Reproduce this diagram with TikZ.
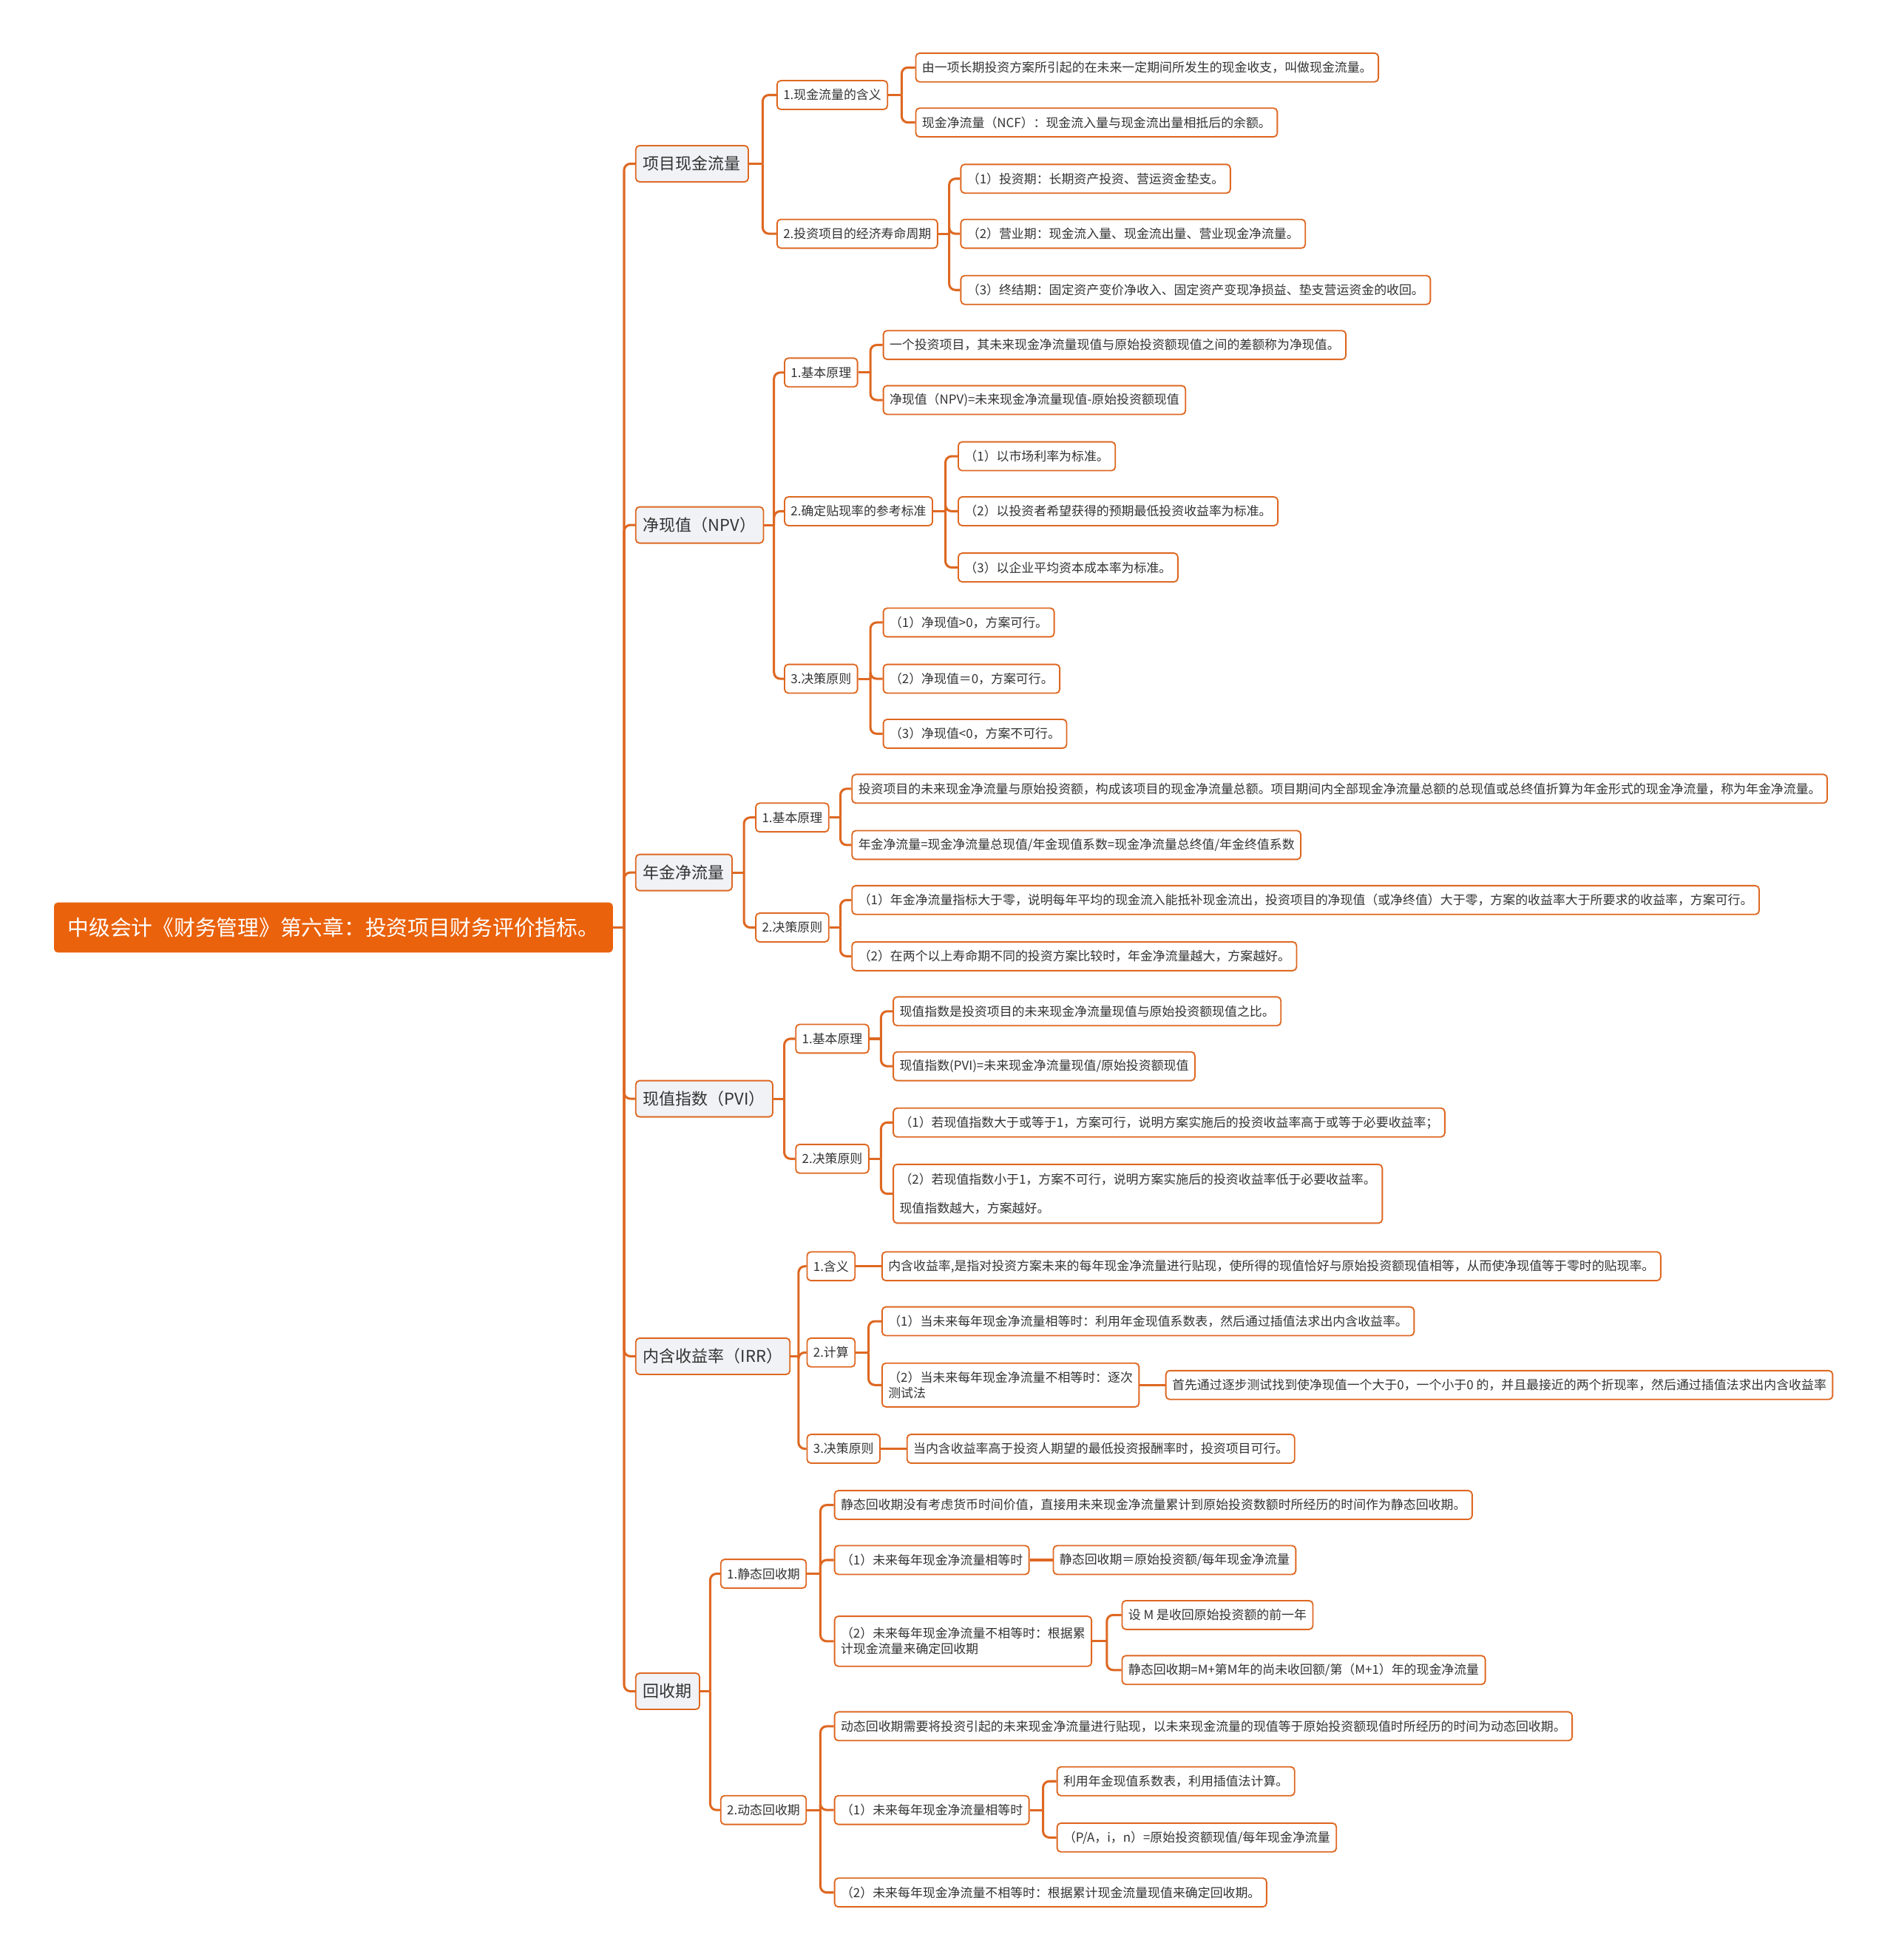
\documentclass[tikz,border=0pt]{standalone}
\usepackage{fontspec}
\setmainfont{Noto Sans CJK SC}
\usepackage{xcolor}
\usetikzlibrary{calc}

\definecolor{mindorange}{RGB}{234,98,12}
\definecolor{linkorange}{RGB}{222,104,34}
\definecolor{topicfill}{RGB}{240,242,245}
\definecolor{inkgray}{RGB}{51,51,51}

\begin{document}
\begin{tikzpicture}[
    x=1pt, y=-1pt,
    leaf/.style={rectangle, draw=linkorange, line width=1.1pt, fill=white, rounded corners=3pt, anchor=west, text=inkgray, font=\fontsize{10}{12.5}\selectfont, inner xsep=5pt, inner ysep=2pt, minimum height=23pt, align=left},
    topic/.style={leaf, fill=topicfill, font=\fontsize{13}{15}\selectfont, inner xsep=6pt, minimum height=29pt},
    rootnode/.style={rectangle, fill=mindorange, rounded corners=3pt, anchor=west, text=white, font=\fontsize{17}{19}\selectfont, inner xsep=9pt, minimum height=40pt, minimum width=447pt},
    link/.style={draw=linkorange, line width=1.8pt}
]
    \fill[white] (0,0) rectangle (1514,1568);
    \useasboundingbox (0,0) rectangle (1514,1568);

    \node[rootnode] (root) at (43,742) {中级会计《财务管理》第六章：投资项目财务评价指标。};

    \node[topic] (sec1) at (508,131) {项目现金流量};
    \node[leaf] (sec1a) at (621,76) {1.现金流量的含义};
    \node[leaf] (sec1a1) at (732,54) {由一项长期投资方案所引起的在未来一定期间所发生的现金收支，叫做现金流量。};
    \node[leaf] (sec1a2) at (732,98) {现金净流量（NCF）：现金流入量与现金流出量相抵后的余额。};
    \node[leaf] (sec1b) at (621,187) {2.投资项目的经济寿命周期};
    \node[leaf] (sec1b1) at (768,143) {（1）投资期：长期资产投资、营运资金垫支。};
    \node[leaf] (sec1b2) at (768,187) {（2）营业期：现金流入量、现金流出量、营业现金净流量。};
    \node[leaf] (sec1b3) at (768,232) {（3）终结期：固定资产变价净收入、固定资产变现净损益、垫支营运资金的收回。};

    \node[topic] (sec2) at (508,420) {净现值（NPV）};
    \node[leaf] (sec2a) at (627,298) {1.基本原理};
    \node[leaf] (sec2a1) at (706,276) {一个投资项目，其未来现金净流量现值与原始投资额现值之间的差额称为净现值。};
    \node[leaf] (sec2a2) at (706,320) {净现值（NPV)=未来现金净流量现值-原始投资额现值};
    \node[leaf] (sec2b) at (627,409) {2.确定贴现率的参考标准};
    \node[leaf] (sec2b1) at (766,365) {（1）以市场利率为标准。};
    \node[leaf] (sec2b2) at (766,409) {（2）以投资者希望获得的预期最低投资收益率为标准。};
    \node[leaf] (sec2b3) at (766,454) {（3）以企业平均资本成本率为标准。};
    \node[leaf] (sec2c) at (627,543) {3.决策原则};
    \node[leaf] (sec2c1) at (706,498) {（1）净现值>0，方案可行。};
    \node[leaf] (sec2c2) at (706,543) {（2）净现值＝0，方案可行。};
    \node[leaf] (sec2c3) at (706,587) {（3）净现值<0，方案不可行。};

    \node[topic] (sec3) at (508,698) {年金净流量};
    \node[leaf] (sec3a) at (604,654) {1.基本原理};
    \node[leaf] (sec3a1) at (681,631) {投资项目的未来现金净流量与原始投资额，构成该项目的现金净流量总额。项目期间内全部现金净流量总额的总现值或总终值折算为年金形式的现金净流量，称为年金净流量。};
    \node[leaf] (sec3a2) at (681,676) {年金净流量=现金净流量总现值/年金现值系数=现金净流量总终值/年金终值系数};
    \node[leaf] (sec3b) at (604,742) {2.决策原则};
    \node[leaf] (sec3b1) at (681,720) {（1）年金净流量指标大于零，说明每年平均的现金流入能抵补现金流出，投资项目的净现值（或净终值）大于零，方案的收益率大于所要求的收益率，方案可行。};
    \node[leaf] (sec3b2) at (681,765) {（2）在两个以上寿命期不同的投资方案比较时，年金净流量越大，方案越好。};

    \node[topic] (sec4) at (508,879) {现值指数（PVI）};
    \node[leaf] (sec4a) at (636,831) {1.基本原理};
    \node[leaf] (sec4a1) at (714,809) {现值指数是投资项目的未来现金净流量现值与原始投资额现值之比。};
    \node[leaf] (sec4a2) at (714,853) {现值指数(PVI)=未来现金净流量现值/原始投资额现值};
    \node[leaf] (sec4b) at (636,927) {2.决策原则};
    \node[leaf] (sec4b1) at (714,898) {（1）若现值指数大于或等于1，方案可行，说明方案实施后的投资收益率高于或等于必要收益率；};
    \node[leaf, minimum height=47pt] (sec4b2) at (714,955) {（2）若现值指数小于1，方案不可行，说明方案实施后的投资收益率低于必要收益率。\\[11pt]现值指数越大，方案越好。};

    \node[topic] (sec5) at (508,1085) {内含收益率（IRR）};
    \node[leaf] (sec5a) at (645,1013) {1.含义};
    \node[leaf] (sec5a1) at (705,1013) {内含收益率,是指对投资方案未来的每年现金净流量进行贴现，使所得的现值恰好与原始投资额现值相等，从而使净现值等于零时的贴现率。};
    \node[leaf] (sec5b) at (645,1082) {2.计算};
    \node[leaf] (sec5b1) at (705,1057) {（1）当未来每年现金净流量相等时：利用年金现值系数表，然后通过插值法求出内含收益率。};
    \node[leaf, minimum height=35pt] (sec5b2) at (705,1108) {（2）当未来每年现金净流量不相等时：逐次\\测试法};
    \node[leaf] (sec5b2a) at (932,1108) {首先通过逐步测试找到使净现值一个大于0，一个小于0 的，并且最接近的两个折现率，然后通过插值法求出内含收益率};
    \node[leaf] (sec5c) at (645,1159) {3.决策原则};
    \node[leaf] (sec5c1) at (725,1159) {当内含收益率高于投资人期望的最低投资报酬率时，投资项目可行。};

    \node[topic] (sec6) at (508,1353) {回收期};
    \node[leaf] (sec6a) at (576,1259) {1.静态回收期};
    \node[leaf] (sec6a1) at (667,1204) {静态回收期没有考虑货币时间价值，直接用未来现金净流量累计到原始投资数额时所经历的时间作为静态回收期。};
    \node[leaf] (sec6a2) at (667,1248) {（1）未来每年现金净流量相等时};
    \node[leaf] (sec6a2a) at (842,1248) {静态回收期＝原始投资额/每年现金净流量};
    \node[leaf, minimum height=40pt] (sec6a3) at (667,1313) {（2）未来每年现金净流量不相等时：根据累\\计现金流量来确定回收期};
    \node[leaf] (sec6a3a) at (897,1292) {设 M 是收回原始投资额的前一年};
    \node[leaf] (sec6a3b) at (897,1336) {静态回收期=M+第M年的尚未收回额/第（M+1）年的现金净流量};
    \node[leaf] (sec6b) at (576,1448) {2.动态回收期};
    \node[leaf] (sec6b1) at (667,1381) {动态回收期需要将投资引起的未来现金净流量进行贴现，以未来现金流量的现值等于原始投资额现值时所经历的时间为动态回收期。};
    \node[leaf] (sec6b2) at (667,1448) {（1）未来每年现金净流量相等时};
    \node[leaf] (sec6b2a) at (845,1425) {利用年金现值系数表，利用插值法计算。};
    \node[leaf] (sec6b2b) at (845,1470) {（P/A，i，n）=原始投资额现值/每年现金净流量};
    \node[leaf] (sec6b3) at (667,1514) {（2）未来每年现金净流量不相等时：根据累计现金流量现值来确定回收期。};

    \foreach \p/\c in {root/sec1, root/sec2, root/sec3, root/sec4, root/sec5, root/sec6,
        sec1/sec1a, sec1/sec1b, sec1a/sec1a1, sec1a/sec1a2, sec1b/sec1b1, sec1b/sec1b2, sec1b/sec1b3,
        sec2/sec2a, sec2/sec2b, sec2/sec2c, sec2a/sec2a1, sec2a/sec2a2, sec2b/sec2b1, sec2b/sec2b2, sec2b/sec2b3,
        sec2c/sec2c1, sec2c/sec2c2, sec2c/sec2c3,
        sec3/sec3a, sec3/sec3b, sec3a/sec3a1, sec3a/sec3a2, sec3b/sec3b1, sec3b/sec3b2,
        sec4/sec4a, sec4/sec4b, sec4a/sec4a1, sec4a/sec4a2, sec4b/sec4b1, sec4b/sec4b2,
        sec5/sec5a, sec5/sec5b, sec5/sec5c, sec5b/sec5b1, sec5b/sec5b2,
        sec6/sec6a, sec6/sec6b, sec6a/sec6a1, sec6a/sec6a2, sec6a/sec6a3, sec6a3/sec6a3a, sec6a3/sec6a3b,
        sec6b/sec6b1, sec6b/sec6b2, sec6b2/sec6b2a, sec6b2/sec6b2b, sec6b/sec6b3}{
        \coordinate (fork) at ($(\p.east)!.5!(\p.east -| \c.west)$);
        \draw[link] (\p.east) -- (fork);
        \draw[link, rounded corners=5pt] (fork) |- (\c.west);
    }
    \foreach \p/\c in {sec5a/sec5a1, sec5b2/sec5b2a, sec5c/sec5c1, sec6a2/sec6a2a}
        \draw[link] (\p.east) -- (\c.west);
\end{tikzpicture}
\end{document}
